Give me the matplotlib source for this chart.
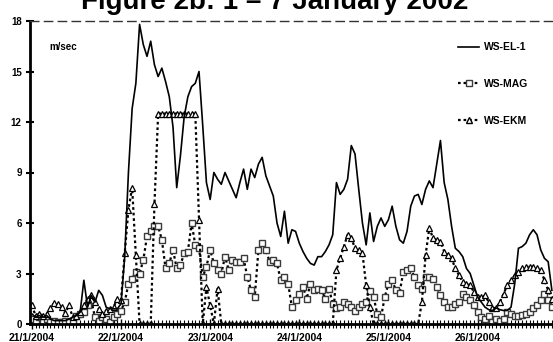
import numpy as np
import matplotlib
matplotlib.use("Agg")
import matplotlib.pyplot as plt
from matplotlib.lines import Line2D
from matplotlib.ticker import MultipleLocator, FixedLocator

plt.rcParams['font.family'] = ['Liberation Sans', 'DejaVu Sans']

# hourly readings, 21/1/2004 00:00 onwards (hours 0..140)
ws_el1 = [0.6, 0.4, 0.5, 0.4, 0.5, 0.3, 0.2, 0.2, 0.2, 0.2, 0.3, 0.4, 0.5, 0.7, 2.6, 1.0, 1.7, 1.3, 2.0, 1.7,
          1.0, 0.9, 0.9, 0.9, 1.2, 4.0, 9.0, 12.8, 14.3, 17.8, 16.6, 15.9, 16.8, 15.4, 14.7, 15.2, 14.4, 13.5, 11.7, 8.1,
          10.0, 12.3, 13.5, 14.1, 14.3, 15.0, 11.8, 8.4, 7.4, 9.0, 8.6, 8.3, 9.0, 8.5, 8.0, 7.5, 8.4, 9.2, 8.0, 9.2,
          8.7, 9.5, 9.9, 8.8, 8.2, 7.6, 6.0, 5.2, 6.7, 4.8, 5.6, 5.5, 4.8, 4.3, 3.9, 3.6, 3.5, 4.0, 4.0, 4.3,
          4.7, 5.3, 8.4, 7.7, 8.0, 8.6, 10.6, 10.1, 8.0, 6.0, 4.7, 6.6, 4.9, 5.8, 6.3, 5.8, 6.2, 7.0, 5.8, 5.0,
          4.8, 5.5, 7.0, 7.6, 7.7, 7.1, 8.0, 8.5, 8.1, 9.5, 10.9, 8.4, 7.4, 5.8, 4.5, 4.3, 4.0, 3.3, 3.0, 2.3,
          1.6, 1.3, 1.0, 0.85, 0.8, 0.95, 0.85, 0.8, 0.8, 1.0, 2.4, 4.5, 4.6, 4.8, 5.3, 5.6, 5.3, 4.4, 3.9, 3.7,
          2.0]
ws_mag = [0.3, 0.2, 0.4, 0.1, 0.3, 0.1, 0.2, 0.1, 0.1, 0.2, 0.1, 0.2, 0.5, 0.6, 0.7, 1.1, 1.4, 0.4, 0.2, 0.4,
          0.3, 0.1, 0.4, 0.6, 0.8, 1.3, 2.4, 2.7, 3.1, 3.0, 3.8, 5.2, 5.5, 5.8, 5.8, 5.0, 3.3, 3.6, 4.4, 3.3,
          3.5, 4.2, 4.3, 6.0, 4.7, 4.5, 2.8, 3.4, 4.4, 3.6, 3.2, 3.0, 4.0, 3.2, 3.8, 3.7, 3.7, 3.9, 2.8, 2.0,
          1.6, 4.4, 4.8, 4.4, 3.7, 3.8, 3.6, 2.6, 2.8, 2.4, 1.0, 1.4, 1.8, 2.2, 1.5, 2.4, 2.0, 2.1, 2.0, 1.5,
          2.1, 1.2, 0.95, 1.0, 1.3, 1.2, 1.0, 0.8, 1.0, 1.2, 1.3, 1.95, 1.6, 0.6, 0.4, 1.6, 2.4, 2.6, 2.0, 1.85,
          3.1, 3.2, 3.3, 2.8, 2.3, 2.1, 2.8, 2.8, 2.7, 2.2, 1.7, 1.3, 1.0, 1.0, 1.2, 1.3, 1.8, 1.6, 1.4, 1.1,
          0.7, 0.4, 0.3, 0.5, 0.1, 0.3, 0.2, 0.3, 0.7, 0.6, 0.5, 0.5, 0.55, 0.6, 0.7, 0.95, 1.1, 1.4, 1.8, 1.4,
          1.0]
ws_ekm = [1.1, 0.5, 0.6, 0.5, 0.6, 0.95, 1.25, 1.2, 1.0, 0.65, 1.1, 0.4, 0.5, 0.7, 1.1, 1.5, 1.7, 1.3, 0.9, 0.6,
          0.8, 0.9, 1.0, 1.5, 1.4, 4.2, 6.8, 8.1, 4.1, 0, 0, 0, 0, 7.1, 12.5, 12.5, 12.5, 12.5, 12.5, 12.5,
          12.5, 12.5, 12.5, 12.5, 12.5, 6.2, 0, 2.2, 1.1, 0, 2.1, 0, 0, 0, 0, 0, 0, 0, 0, 0,
          0, 0, 0, 0, 0, 0, 0, 0, 0, 0, 0, 0, 0, 0, 0, 0, 0, 0, 0, 0,
          0, 0, 3.2, 3.9, 4.6, 5.3, 5.1, 4.5, 4.4, 4.2, 2.3, 1.0, 0, 0, 0, 0, 0, 0, 0, 0,
          0, 0, 0, 0, 0, 1.3, 4.1, 5.7, 5.1, 5.0, 4.9, 4.3, 4.1, 3.9, 3.3, 2.9, 2.5, 2.4, 2.3, 1.9,
          1.6, 1.6, 1.7, 1.3, 0.95, 0.95, 1.3, 1.8, 2.3, 2.6, 2.9, 3.1, 3.3, 3.4, 3.4, 3.4, 3.3, 3.2, 2.6, 2.0,
          1.5]
day_labels = ['21/1/2004', '22/1/2004', '23/1/2004', '24/1/2004', '25/1/2004', '26/1/2004']
y_ticks = [0, 3, 6, 9, 12, 15, 18]

hours = np.arange(len(ws_el1))

fig = plt.figure(figsize=(5.53, 3.42), dpi=100)
ax = fig.add_axes([30 / 553, 18 / 342, 523 / 553, 303 / 342])

dots = (0, (1.2, 1.3))
ax.plot(hours, ws_el1, color='black', lw=1.2, zorder=3)
ax.plot(hours, ws_mag, color='black', lw=1.6, ls=dots,
        marker='s', ms=4.5, mfc='white', mec='#3a3a3a', mew=1.0, zorder=2)
ax.plot(hours, ws_ekm, color='black', lw=1.6, ls=dots,
        marker='^', ms=4.5, mfc='white', mec='black', mew=0.9, zorder=2)

ax.set_xlim(-0.5, 140.3)
ax.set_ylim(0, 18)
ax.yaxis.set_major_locator(FixedLocator(y_ticks))
ax.set_yticklabels([str(v) for v in y_ticks], fontsize=7, fontweight='bold')
ax.xaxis.set_major_locator(FixedLocator([24 * i for i in range(len(day_labels))]))
ax.xaxis.set_minor_locator(MultipleLocator(1))
ax.set_xticklabels(day_labels, fontsize=7.5, fontweight='bold')

ax.tick_params(axis='y', direction='inout', length=6, width=1.5, pad=3)
ax.tick_params(axis='x', which='major', direction='inout', length=7, width=1.0, pad=3)
ax.tick_params(axis='x', which='minor', direction='inout', length=6, width=0.8)

ax.spines['left'].set_linewidth(2)
ax.spines['bottom'].set_linewidth(2)
ax.spines['right'].set_visible(False)
ax.spines['top'].set_linestyle((0, (6, 4)))
ax.spines['top'].set_linewidth(1)
ax.spines['top'].set_color('#333333')

ax.text(49 / 553, 1 - 47 / 342, 'm/sec', transform=fig.transFigure,
        fontsize=7, fontweight='bold', va='center')

handles = [
    Line2D([], [], color='black', lw=1.2),
    Line2D([], [], color='black', lw=1.6, ls=dots, marker='s', ms=4.5,
           mfc='white', mec='#3a3a3a'),
    Line2D([], [], color='black', lw=1.6, ls=dots, marker='^', ms=4.5,
           mfc='white', mec='black'),
]
fig.legend(handles, ['WS-EL-1', 'WS-MAG', 'WS-EKM'], loc='upper left',
           bbox_to_anchor=(449 / 553, 1 - 33 / 342), frameon=False,
           prop={'size': 7.5, 'weight': 'bold'}, labelspacing=2.55,
           handlelength=2.0, handletextpad=0.45)

fig.text(275 / 553, 1 - 9 / 342, 'Figure 2b: 1 – 7 January 2002',
         fontsize=20, fontweight='bold', ha='center', va='baseline')

fig.savefig('out.png', dpi=100)
